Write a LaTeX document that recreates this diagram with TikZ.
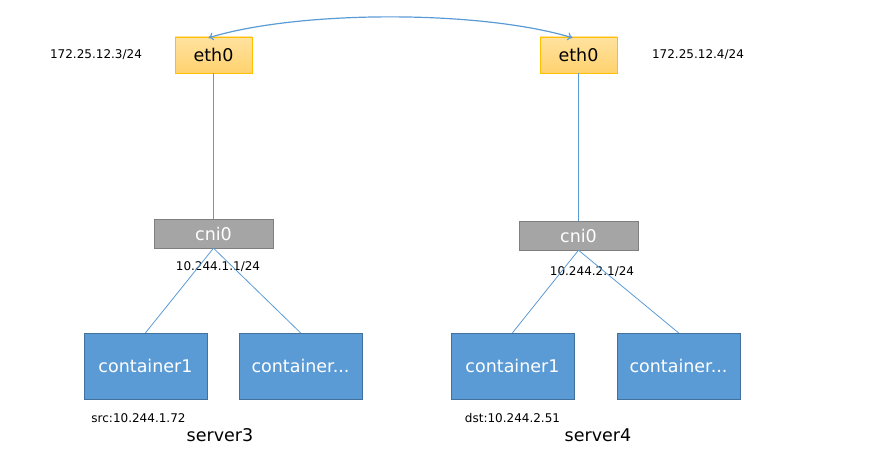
\documentclass[tikz,border=0pt]{standalone}
\usepackage{fontspec}
\setmainfont{DejaVu Sans}
\usetikzlibrary{arrows.meta, positioning, calc}
\definecolor{ethBorder}{RGB}{255, 192, 0}
\definecolor{ethTop}{RGB}{255, 226, 160}
\definecolor{ethBottom}{RGB}{255, 210, 110}
\definecolor{cniGray}{RGB}{165, 165, 165}
\definecolor{cniBorder}{RGB}{127, 127, 127}
\definecolor{boxBlue}{RGB}{91, 155, 213}
\definecolor{boxBorder}{RGB}{65, 113, 156}
\definecolor{linkBlue}{RGB}{91, 155, 213}

\begin{document}
\begin{tikzpicture}[
    x=1bp, y=-1bp,
    ethbox/.style={rectangle, draw=ethBorder, top color=ethTop, bottom color=ethBottom, minimum width=77bp, minimum height=36bp, inner sep=0pt, font=\fontsize{17.5bp}{20bp}\selectfont},
    cnibox/.style={rectangle, draw=cniBorder, fill=cniGray, text=white, minimum width=119bp, minimum height=29bp, inner sep=0pt, font=\fontsize{17.5bp}{20bp}\selectfont},
    ctbox/.style={rectangle, draw=boxBorder, fill=boxBlue, text=white, minimum width=123bp, minimum height=66bp, inner sep=0pt, font=\fontsize{17.5bp}{20bp}\selectfont},
    addr/.style={font=\fontsize{12bp}{14bp}\selectfont, inner sep=0pt},
    host/.style={font=\fontsize{17.5bp}{20bp}\selectfont, inner sep=0pt},
    link/.style={linkBlue, line width=0.8bp},
    arrow/.style={{To[length=5bp,width=8bp]}-{To[length=5bp,width=8bp]}, linkBlue, line width=1.2bp}
]
\useasboundingbox (0,0) rectangle (876,460);

% server3
\node[ethbox] (eth3) at (213.5, 55)  {eth0};
\node[cnibox] (cni3) at (213.5, 233.5) {cni0};
\node[ctbox]  (c31)  at (145.5, 366) {container1};
\node[ctbox]  (c32)  at (300.5, 366) {container...};

% server4
\node[ethbox] (eth4) at (578.5, 55)  {eth0};
\node[cnibox] (cni4) at (578.5, 235.5) {cni0};
\node[ctbox]  (c41)  at (512.5, 366) {container1};
\node[ctbox]  (c42)  at (678.5, 366) {container...};

% addresses
\node[addr] (ip3)  at (96, 55)   {172.25.12.3/24};
\node[addr] (ip4)  at (698, 55)  {172.25.12.4/24};
\node[addr] (br3)  at (218, 267) {10.244.1.1/24};
\node[addr] (br4)  at (592, 272) {10.244.2.1/24};
\node[addr] (src)  at (138.5, 418) {src:10.244.1.72};
\node[addr] (dst)  at (512.5, 418) {dst:10.244.2.51};
\node[host] (srv3) at (220, 435) {server3};
\node[host] (srv4) at (598, 435) {server4};

% links
\draw[link] (eth3.south) -- (cni3.north);
\draw[link] (eth4.south) -- (cni4.north);
\draw[link] (cni3.south) -- (c31.north);
\draw[link] (cni3.south) -- (c32.north);
\draw[link] (cni4.south) -- (c41.north);
\draw[link] (cni4.south) -- (c42.north);

\draw[arrow] ([xshift=-5bp, yshift=-1bp]eth3.north) .. controls (300, 10) and (480, 10) .. ([xshift=-6bp, yshift=-1bp]eth4.north);

\end{tikzpicture}
\end{document}
